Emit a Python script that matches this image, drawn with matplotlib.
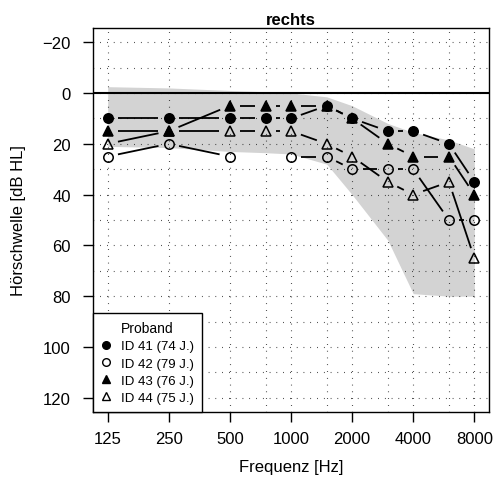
import numpy as np
import matplotlib
matplotlib.use("Agg")
import matplotlib.pyplot as plt
from matplotlib.lines import Line2D

plt.rcParams['font.family'] = ['Liberation Sans', 'DejaVu Sans']

# Audiometric frequencies [Hz]
freqs = [125, 250, 500, 750, 1000, 1500, 2000, 3000, 4000, 6000, 8000]
octave_ticks = [125, 250, 500, 1000, 2000, 4000, 8000]

# Hearing thresholds [dB HL], right ear (NaN = not measured)
id41 = [10, 10, 10, 10, 10, 5, 10, 15, 15, 20, 35]
id42 = [25, 20, 25, np.nan, 25, 25, 30, 30, 30, 50, 50]
id43 = [15, 15, 5, 5, 5, 5, 10, 20, 25, 25, 40]
id44 = [20, 15, 15, 15, 15, 20, 25, 35, 40, 35, 65]

# Age-related reference range (upper and lower bound)
band_upper = [-2.5, -2, -1, -0.5, 0, 1.5, 5, 12, 15.5, 18.5, 22]
band_lower = [21, 21.5, 23, 23.5, 24, 28, 40, 58, 79, 80, 80]

labels = ["ID 41 (74 J.)", "ID 42 (79 J.)", "ID 43 (76 J.)", "ID 44 (75 J.)"]
series = [id41, id42, id43, id44]
markers = ["o", "o", "^", "^"]
filled = [True, False, True, False]

fig = plt.figure(figsize=(4.96, 5.02), dpi=100)
ax = fig.add_axes([93 / 496, 1 - 413 / 502, (489 - 93) / 496, (413 - 29) / 502])

ax.set_xscale("log", base=2)
ax.set_xlim(125 * 2 ** -0.24, 8000 * 2 ** 0.24)
ax.set_ylim(125.6, -25.6)

# reference band
ax.fill_between(freqs, band_upper, band_lower, color="#d3d3d3", lw=0, zorder=1)

# dotted grid at every audiometric frequency and every 10 dB
for f in freqs:
    ax.axvline(f, color="black", lw=0.8, ls=(0, (0.6, 5.5)), zorder=2)
for yv in range(-20, 121, 10):
    ax.axhline(yv, color="black", lw=0.8, ls=(0, (0.6, 5.5)), zorder=2)
ax.axhline(0, color="black", lw=1.5, zorder=3)

# lines with gaps around the points
gap = 10.5
to_disp = ax.transData
to_data = ax.transData.inverted()
for vals in series:
    for i in range(len(freqs) - 1):
        y0, y1 = vals[i], vals[i + 1]
        if np.isnan(y0) or np.isnan(y1):
            continue
        p0 = to_disp.transform((freqs[i], y0))
        p1 = to_disp.transform((freqs[i + 1], y1))
        d = p1 - p0
        L = np.hypot(*d)
        if L <= 2 * gap:
            continue
        u = d / L
        q = to_data.transform(np.array([p0 + u * gap, p1 - u * gap]))
        ax.plot(q[:, 0], q[:, 1], color="black", lw=1.3, solid_capstyle="butt", zorder=4)

handles = []
for vals, m, fl, lab in zip(series, markers, filled, labels):
    ms = 6.8 if m == "o" else 7.2
    ax.plot(freqs, vals, ls="none", marker=m, ms=ms,
            mfc="black" if fl else "none", mec="black", mew=1.1, zorder=5)
    handles.append(Line2D([], [], ls="none", marker=m, ms=5.5,
                          mfc="black" if fl else "none", mec="black", mew=1.0, label=lab))

ax.set_xticks(octave_ticks)
ax.set_xticklabels([str(t) for t in octave_ticks])
ax.xaxis.set_minor_locator(matplotlib.ticker.NullLocator())
ax.set_yticks(range(-20, 121, 20))
ax.set_yticklabels(["\u221220"] + [str(v) for v in range(0, 121, 20)])
ax.tick_params(axis="both", direction="out", length=7, width=1, labelsize=12)
ax.tick_params(axis="x", pad=7)
ax.tick_params(axis="y", pad=9)

for s in ax.spines.values():
    s.set_linewidth(1)

ax.set_title("rechts", fontsize=12, fontweight="bold", pad=3)
ax.set_xlabel("Frequenz [Hz]", fontsize=12, labelpad=9)
ax.set_ylabel("Hörschwelle [dB HL]", fontsize=12, labelpad=12)

leg = ax.legend(handles=handles, title="Proband", loc="lower left",
                bbox_to_anchor=(0, 0), borderaxespad=0, fontsize=9.5,
                title_fontsize=10, frameon=True, fancybox=False,
                handlelength=0.8, handletextpad=0.7, labelspacing=0.38,
                borderpad=0.6)
leg.get_title().set_linespacing(1.6)
leg.get_frame().set_edgecolor("black")
leg.get_frame().set_linewidth(1)
leg.get_frame().set_alpha(1)
leg.set_zorder(10)

fig.savefig("out.png", dpi=100)
